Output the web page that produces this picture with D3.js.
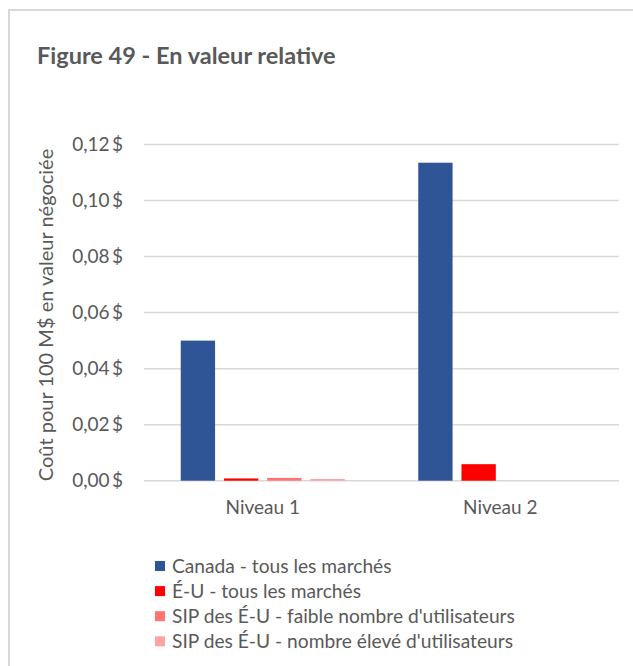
<!DOCTYPE html>
<html>
<head>
<meta charset="utf-8">
<script src="https://cdn.jsdelivr.net/npm/d3@7"></script>
<style>
  html, body { margin: 0; padding: 0; background: #fff; }
  svg { display: block; }
  text { font-family: Lato, "Open Sans", sans-serif; fill: #595959; }
</style>
</head>
<body>
<svg id="chart" width="633" height="666"></svg>
<script>
// Cost per 100 M$ of traded value, by tier
const categories = ["Niveau 1", "Niveau 2"];
const seriesNames = [
  "Canada - tous les marchés",
  "É-U - tous les marchés",
  "SIP des É-U - faible nombre d'utilisateurs",
  "SIP des É-U - nombre élevé d'utilisateurs"
];
const canadaValues  = [0.0500, 0.1135];
const usValues      = [0.0008, 0.0059];
const sipLowValues  = [0.0010, 0.0000];
const sipHighValues = [0.0006, 0.0000];
const yTicks = [0, 0.02, 0.04, 0.06, 0.08, 0.10, 0.12];
const seriesColors = ["#2F5597", "#FF0000", "#FF7373", "#FFA3A3"];

const seriesValues = [canadaValues, usValues, sipLowValues, sipHighValues];

const svg = d3.select("#chart");

// chart frame
svg.append("rect")
  .attr("x", 9).attr("y", 10)
  .attr("width", 700).attr("height", 700)
  .attr("fill", "#fff")
  .attr("stroke", "#d9d9d9")
  .attr("stroke-width", 2);

svg.append("text")
  .attr("x", 37).attr("y", 64)
  .style("font-size", "23.5px")
  .style("font-weight", "bold")
  .text("Figure 49 - En valeur relative");

const plot = { left: 144, right: 619, top: 144.5, bottom: 480.7 };

const y = d3.scaleLinear().domain([0, 0.12]).range([plot.bottom, plot.top]);
const x = d3.scaleBand().domain(categories).range([plot.left, plot.right]).padding(0);
const xs = d3.scaleBand().domain(d3.range(seriesNames.length))
  .range([0, x.bandwidth()]).paddingInner(0.206).paddingOuter(0.85);

const fmt = v => d3.format(".2f")(v).replace(".", ",") + "\u2009$";

// gridlines
svg.append("g")
  .selectAll("line")
  .data(yTicks)
  .join("line")
  .attr("x1", plot.left).attr("x2", plot.right)
  .attr("y1", d => y(d)).attr("y2", d => y(d))
  .attr("stroke", "#d9d9d9")
  .attr("stroke-width", 1.5);

// y tick labels
svg.append("g")
  .selectAll("text")
  .data(yTicks)
  .join("text")
  .attr("x", 123)
  .attr("y", d => y(d))
  .attr("dy", "0.35em")
  .attr("text-anchor", "end")
  .style("font-size", "19px")
  .text(fmt);

// y axis title
svg.append("text")
  .attr("transform", `translate(53, ${(143 + 487) / 2}) rotate(-90)`)
  .attr("text-anchor", "middle")
  .style("font-size", "20px")
  .text("Coût pour 100 M$ en valeur négociée");

// bars
const barData = [];
seriesValues.forEach((vals, s) => {
  vals.forEach((v, c) => barData.push({ s, c, v }));
});
svg.append("g")
  .selectAll("rect")
  .data(barData)
  .join("rect")
  .attr("x", d => x(categories[d.c]) + xs(d.s))
  .attr("width", xs.bandwidth())
  .attr("y", d => y(d.v))
  .attr("height", d => y(0) - y(d.v))
  .attr("fill", d => seriesColors[d.s]);

// category labels
svg.append("g")
  .selectAll("text")
  .data(categories)
  .join("text")
  .attr("x", d => x(d) + x.bandwidth() / 2)
  .attr("y", 514)
  .attr("text-anchor", "middle")
  .style("font-size", "19px")
  .text(d => d);

// legend
const legend = svg.append("g").attr("transform", "translate(155, 566)");
const items = legend.selectAll("g")
  .data(seriesNames)
  .join("g")
  .attr("transform", (d, i) => `translate(0, ${i * 25.1})`);
items.append("rect")
  .attr("x", 0).attr("y", -5)
  .attr("width", 10).attr("height", 10)
  .attr("fill", (d, i) => seriesColors[i]);
items.append("text")
  .attr("x", 17).attr("y", 0)
  .attr("dy", "0.35em")
  .style("font-size", "19.2px")
  .text(d => d);
</script>
</body>
</html>
